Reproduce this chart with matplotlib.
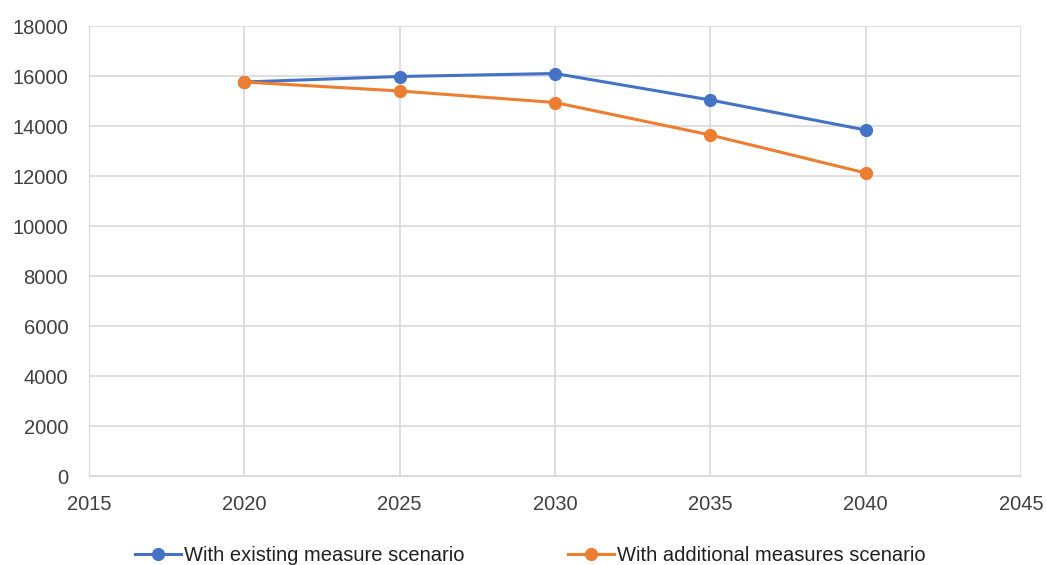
import matplotlib
matplotlib.use("Agg")
import matplotlib.pyplot as plt

years = [2020, 2025, 2030, 2035, 2040]
existing = [15760, 15980, 16100, 15040, 13840]
additional = [15760, 15400, 14940, 13640, 12120]
labels = ["With existing measure scenario", "With additional measures scenario"]

plt.rcParams["font.family"] = ["Liberation Sans", "DejaVu Sans"]

fig = plt.figure(figsize=(10.46, 5.65), dpi=100)
ax = fig.add_axes([89 / 1046, 1 - 476 / 565, (1021 - 89) / 1046, (476 - 26) / 565])

ax.plot(years, existing, color="#4472C4", lw=2.2, marker="o", ms=8.5, label=labels[0], zorder=3)
ax.plot(years, additional, color="#ED7D31", lw=2.2, marker="o", ms=8.5, label=labels[1], zorder=3)

ax.set_xlim(2015, 2045)
ax.set_ylim(0, 18000)
ax.set_xticks(range(2015, 2046, 5))
ax.set_yticks(range(0, 18001, 2000))
ax.grid(True, color="#D9D9D9", lw=1.2)
ax.set_axisbelow(True)
for s in ["top", "right"]:
    ax.spines[s].set_visible(False)
ax.spines["left"].set_color("#D9D9D9")
ax.spines["bottom"].set_color("#D9D9D9")
ax.tick_params(axis="y", length=0, labelsize=14.5, colors="#404040", pad=15)
ax.tick_params(axis="x", length=0, labelsize=14.5, colors="#404040", pad=14)

fig.legend(loc="center", bbox_to_anchor=(0.507, 0.016), ncol=2, frameon=False,
           fontsize=14.5, handlelength=2.3, handletextpad=0.15, columnspacing=5.1,
           labelcolor="#202020")

fig.savefig("out.png", dpi=100)
